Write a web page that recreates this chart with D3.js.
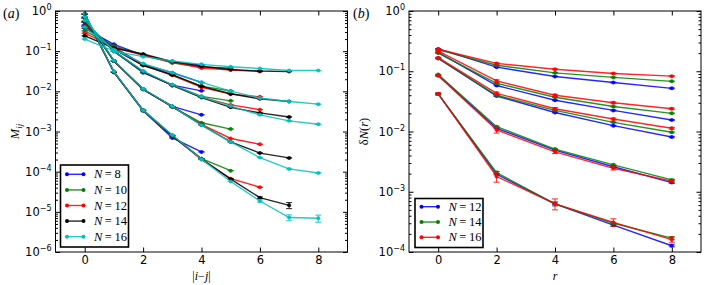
<!DOCTYPE html>
<html>
<head>
<meta charset="utf-8">
<script src="https://cdn.jsdelivr.net/npm/d3@7"></script>
<style>body{margin:0;background:#fff}</style>
</head>
<body>
<script>
// ---- panel (a): M_ij vs |i-j|, five curve families per system size ----
var distLeft = [0, 1, 2, 3, 4, 5, 6, 7, 8];
var sizesLeft = [8, 10, 12, 14, 16];

var M8 = [
  [0.37, 0.148, 0.080, 0.055, 0.045],
  [0.45, 0.125, 0.047, 0.029, 0.0167],
  [0.52, 0.100, 0.029, 0.0143, 0.0103],
  [0.65, 0.058, 0.0112, 0.0042, 0.0026],
  [0.82, 0.031, 0.0033, 0.00069, 0.00031]
];
var M10 = [
  [0.32, 0.135, 0.080, 0.051, 0.040, 0.038],
  [0.43, 0.120, 0.046, 0.025, 0.0135, 0.0102],
  [0.52, 0.100, 0.030, 0.0145, 0.0075, 0.0058],
  [0.66, 0.057, 0.0113, 0.0041, 0.00165, 0.00115],
  [0.83, 0.030, 0.0033, 0.00076, 0.00021, 0.000106]
];
var M12 = [
  [0.28, 0.125, 0.079, 0.053, 0.038, 0.034, 0.031],
  [0.42, 0.115, 0.045, 0.025, 0.0125, 0.0085, 0.0073],
  [0.53, 0.100, 0.031, 0.014, 0.0072, 0.0046, 0.0035],
  [0.68, 0.057, 0.0112, 0.0041, 0.0015, 0.00067, 0.00048],
  [0.84, 0.030, 0.0034, 0.00078, 0.0002, 0.000067, 0.000041]
];
var M14 = [
  [0.24, 0.120, 0.085, 0.055, 0.042, 0.035, 0.032, 0.031],
  [0.41, 0.112, 0.044, 0.026, 0.0133, 0.0087, 0.0065, 0.0056],
  [0.55, 0.100, 0.031, 0.014, 0.0070, 0.0040, 0.0029, 0.0023],
  [0.70, 0.057, 0.0112, 0.0042, 0.00145, 0.00055, 0.00029, 0.00022],
  [0.85, 0.030, 0.0034, 0.00079, 0.00021, 0.000065, 0.0000225, 0.0000145]
];
var M16 = [
  [0.20, 0.100, 0.073, 0.057, 0.047, 0.041, 0.037, 0.033, 0.033],
  [0.40, 0.110, 0.049, 0.029, 0.0167, 0.0101, 0.0068, 0.0056, 0.0048],
  [0.58, 0.100, 0.032, 0.0145, 0.0073, 0.0043, 0.0026, 0.00184, 0.00152],
  [0.72, 0.058, 0.0114, 0.0042, 0.00144, 0.00055, 0.000224, 0.000117, 0.000093],
  [0.87, 0.031, 0.0034, 0.00082, 0.000205, 0.000057, 0.0000186, 0.0000072, 0.0000069]
];
// only the smallest values carry visible error bars
var errM14 = [[], [], [], [], [0, 0, 0, 0, 0, 0, 0.000001, 0.0000025]];
var errM16 = [[], [], [], [], [0, 0, 0, 0, 0, 0, 0.0000012, 0.0000012, 0.0000014]];

// ---- panel (b): deltaN(r) vs r ----
var distRight = [0, 2, 4, 6, 8];
var sizesRight = [12, 14, 16];

var dN12 = [
  [0.235, 0.117, 0.082, 0.065, 0.052],
  [0.205, 0.058, 0.033, 0.0224, 0.0155],
  [0.163, 0.0387, 0.0207, 0.0125, 0.0081],
  [0.086, 0.0113, 0.0049, 0.0026, 0.00142],
  [0.042, 0.00195, 0.00063, 0.00028, 0.000127]
];
var dN14 = [
  [0.230, 0.126, 0.094, 0.079, 0.068],
  [0.200, 0.063, 0.037, 0.026, 0.020],
  [0.165, 0.040, 0.0224, 0.0142, 0.0097],
  [0.088, 0.012, 0.0051, 0.0028, 0.00157],
  [0.042, 0.00208, 0.00063, 0.00030, 0.00017]
];
var dN16 = [
  [0.232, 0.135, 0.108, 0.092, 0.083],
  [0.215, 0.069, 0.040, 0.030, 0.0239],
  [0.168, 0.043, 0.0239, 0.0161, 0.0113],
  [0.084, 0.0106, 0.0046, 0.00245, 0.0015],
  [0.042, 0.00179, 0.00063, 0.00031, 0.00016]
];
var errN12 = [[0.002, 0.001, 0.001, 0.001, 0.001], [0.002, 0.001, 0.0005, 0.0004, 0.0003], [0.002, 0.0006, 0.0003, 0.0002, 0.0002], [0.001, 0.0002, 0.00008, 0.00005, 0.00004], [0.001, 0.00005, 0.00002, 0.00001, 0.000005]];
var errN14 = [[0.002, 0.001, 0.001, 0.001, 0.001], [0.002, 0.001, 0.0005, 0.0004, 0.0003], [0.002, 0.0006, 0.0003, 0.0002, 0.0002], [0.001, 0.0003, 0.0001, 0.00006, 0.00004], [0.001, 0.0001, 0.00005, 0.00001, 0.000008]];
var errN16 = [[0.003, 0.003, 0.002, 0.002, 0.002], [0.005, 0.003, 0.0015, 0.001, 0.0007], [0.003, 0.002, 0.001, 0.0006, 0.0004], [0.002, 0.0012, 0.0003, 0.00015, 0.0001], [0.002, 0.00035, 0.00013, 0.000045, 0.000018]];

var W = 706, H = 285, top_ = 11, bottom = 252, pw = 292;
var serif = 'Liberation Serif';

var svg = d3.select('body').append('svg').attr('width', W).attr('height', H)
  .style('font-family', 'DejaVu Sans');

function mathText(sel, parts, size) {
  // parts: [text, italic?, sub?]
  parts.forEach(function(p) {
    var t = sel.append('tspan').text(p[0]).style('font-style', p[1] ? 'italic' : 'normal');
    if (p[2] === 'sub') t.attr('font-size', size * 0.7).attr('dy', size * 0.25);
  });
  return sel;
}

function drawPanel(o) {
  var g = svg.append('g');
  var x = d3.scaleLinear().domain([-1, 9]).range([o.left, o.left + pw]);
  var y = d3.scaleLog().domain(o.yDomain).range([bottom, top_]);

  svg.append('clipPath').attr('id', 'clip' + o.id).append('rect')
    .attr('x', o.left).attr('y', top_).attr('width', pw).attr('height', bottom - top_);
  var plot = g.append('g').attr('clip-path', 'url(#clip' + o.id + ')');

  o.sets.forEach(function(s) {
    var c = o.color(s.n);
    s.fams.forEach(function(vals, f) {
      var pts = vals.map(function(v, i) {
        return {x: o.xs[i], v: v, e: ((s.errs || [])[f] || [])[i] || 0};
      });
      plot.append('path').datum(pts)
        .attr('d', d3.line().x(function(d) { return x(d.x); }).y(function(d) { return y(d.v); }))
        .attr('fill', 'none').attr('stroke', c).attr('stroke-width', 1.4).attr('opacity', 0.85);
      var eb = plot.append('g').attr('stroke', c).attr('stroke-width', 1).attr('opacity', 0.85);
      pts.forEach(function(d) {
        var y0 = y(Math.max(d.v - d.e, o.yDomain[0] / 10)), y1 = y(d.v + d.e), xx = x(d.x);
        eb.append('line').attr('x1', xx).attr('x2', xx).attr('y1', y0).attr('y2', y1);
        [y0, y1].forEach(function(yy) {
          eb.append('line').attr('x1', xx - 3).attr('x2', xx + 3).attr('y1', yy).attr('y2', yy);
        });
      });
      plot.append('g').selectAll('circle').data(pts).enter().append('circle')
        .attr('cx', function(d) { return x(d.x); }).attr('cy', function(d) { return y(d.v); })
        .attr('r', 2).attr('fill', c).attr('opacity', 0.9);
    });
  });

  // ticks, inward on all four sides
  var lo = Math.round(Math.log10(o.yDomain[0])), hi = Math.round(Math.log10(o.yDomain[1]));
  var majors = d3.range(lo, hi + 1).map(function(p) { return Math.pow(10, p); });
  var minors = [];
  d3.range(lo, hi).forEach(function(p) { d3.range(2, 10).forEach(function(k) { minors.push(k * Math.pow(10, p)); }); });
  var xt = [0, 2, 4, 6, 8];
  function clean(a) { a.select('.domain').remove(); a.attr('font-size', 11.5).attr('font-family', 'DejaVu Sans'); }

  g.append('g').attr('transform', 'translate(0,' + bottom + ')')
    .call(d3.axisBottom(x).tickValues(xt).tickSizeInner(-4.5).tickSizeOuter(0).tickPadding(4).tickFormat(d3.format('d')))
    .call(clean).selectAll('text').attr('fill', '#000');
  g.append('g').attr('transform', 'translate(0,' + top_ + ')')
    .call(d3.axisTop(x).tickValues(xt).tickSizeInner(-4.5).tickSizeOuter(0).tickFormat('')).call(clean);
  [[d3.axisLeft, o.left], [d3.axisRight, o.left + pw]].forEach(function(a) {
    g.append('g').attr('transform', 'translate(' + a[1] + ',0)')
      .call(a[0](y).tickValues(majors).tickSizeInner(-4.5).tickSizeOuter(0).tickFormat('')).call(clean);
    g.append('g').attr('transform', 'translate(' + a[1] + ',0)')
      .call(a[0](y).tickValues(minors).tickSizeInner(-2.5).tickSizeOuter(0).tickFormat('')).call(clean);
  });

  majors.forEach(function(m) {
    var t = g.append('text').attr('x', o.left - 4).attr('y', y(m) + 4).attr('text-anchor', 'end')
      .attr('font-size', 11.5);
    t.append('tspan').text('10');
    t.append('tspan').text(String(Math.round(Math.log10(m))).replace('-', '\u2212'))
      .attr('font-size', 8).attr('dy', -5);
  });

  g.append('rect').attr('x', o.left).attr('y', top_).attr('width', pw).attr('height', bottom - top_)
    .attr('fill', 'none').attr('stroke', '#000').attr('stroke-width', 1);

  // axis labels
  mathText(g.append('text').attr('x', o.left + pw / 2).attr('y', 280).attr('text-anchor', 'middle')
    .attr('font-family', serif).attr('font-size', 12), o.xlabel, 12);
  mathText(g.append('text').attr('transform', 'translate(' + o.ylabelX + ',' + (top_ + bottom) / 2 + ') rotate(-90)')
    .attr('text-anchor', 'middle').attr('font-family', serif).attr('font-size', 12.5), o.ylabel, 12.5);
  mathText(g.append('text').attr('x', o.tagX).attr('y', 18).attr('font-family', serif).attr('font-size', 14),
    [['('], [o.tag, true], [')']], 14);

  // legend
  var L = o.legend;
  var lg = g.append('g');
  lg.append('rect').attr('x', L.x).attr('y', L.y).attr('width', L.w).attr('height', L.h)
    .attr('fill', '#fff').attr('stroke', '#000').attr('stroke-width', 1.6);
  o.sets.forEach(function(s, i) {
    var yy = L.y + L.first + i * L.step, c = o.color(s.n);
    lg.append('line').attr('x1', L.x + 6.5).attr('x2', L.x + 23).attr('y1', yy).attr('y2', yy)
      .attr('stroke', c).attr('stroke-width', 1.4).attr('opacity', 0.85);
    [L.x + 6.5, L.x + 23].forEach(function(cx) {
      lg.append('circle').attr('cx', cx).attr('cy', yy).attr('r', 2).attr('fill', c);
    });
    mathText(lg.append('text').attr('x', L.x + 33.5).attr('y', yy + 4).attr('font-family', serif).attr('font-size', 12.5),
      [['N', true], ['\u2009=\u2009' + s.n]], 12.5);
  });
}

drawPanel({
  id: 'a', left: 55.5, yDomain: [1e-6, 1], xs: distLeft, tag: 'a', tagX: 3, ylabelX: 19,
  color: d3.scaleOrdinal().domain(sizesLeft).range(['#0000ff', '#008000', '#ff0000', '#000000', '#00bfbf']),
  sets: [M8, M10, M12, M14, M16].map(function(f, i) {
    return {n: sizesLeft[i], fams: f, errs: {14: errM14, 16: errM16}[sizesLeft[i]]};
  }),
  xlabel: [['|'], ['i', true], ['\u2212'], ['j', true], ['|']],
  ylabel: [['M', true], ['ij', true, 'sub']],
  legend: {x: 60.5, y: 165, w: 68, h: 82, first: 9.3, step: 15.6}
});

drawPanel({
  id: 'b', left: 409, yDomain: [1e-4, 1], xs: distRight, tag: 'b', tagX: 353, ylabelX: 368,
  color: d3.scaleOrdinal().domain(sizesRight).range(['#0000ff', '#008000', '#ff0000']),
  sets: [dN12, dN14, dN16].map(function(f, i) {
    return {n: sizesRight[i], fams: f, errs: [errN12, errN14, errN16][i]};
  }),
  xlabel: [['r', true]],
  ylabel: [['\u03b4'], ['N', true], ['('], ['r', true], [')']],
  legend: {x: 415, y: 198.5, w: 68, h: 49, first: 8.2, step: 15.3}
});
</script>
</body>
</html>
